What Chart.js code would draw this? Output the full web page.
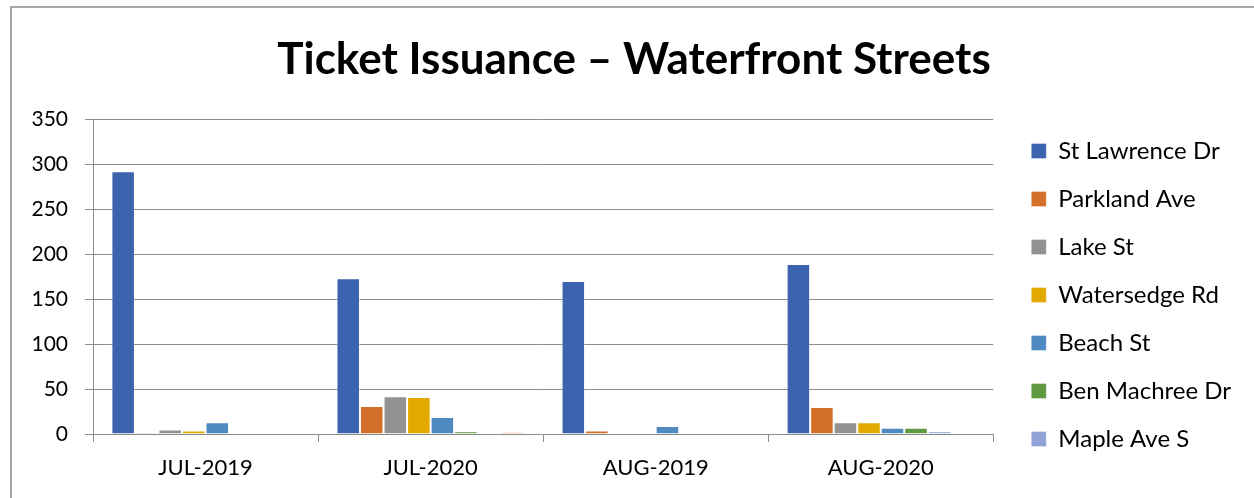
<!DOCTYPE html>
<html>
<head>
<meta charset="utf-8">
<script src="https://cdn.jsdelivr.net/npm/chart.js@4"></script>
<style>
  html, body { margin: 0; padding: 0; background: #fff; }
  #frame {
    position: absolute; left: 10px; top: 6px; width: 1300px; height: 600px;
    border: 2px solid #a6a6a6; box-sizing: border-box;
  }
  #ticketChart { position: absolute; left: 0; top: 0; }
</style>
</head>
<body>
<div id="frame"></div>
<canvas id="ticketChart" width="1254" height="498"></canvas>
<script>
// ---- Duomenys ----
const months = ["JUL-2019", "JUL-2020", "AUG-2019", "AUG-2020"];

const stLawrence  = [292, 173, 170, 189];
const parkland    = [1, 31, 4, 30];
const lakeSt      = [5, 42, 0, 13];
const watersedge  = [4, 41, 0, 13];
const beachSt     = [13, 19, 9, 7];
const benMachree  = [0, 3, 0, 7];
const mapleAve    = [0, 0, 0, 3];
const otherStreet = [0, 2, 0, 0]; // 8th series, not shown in the legend

const yTicks = [0, 50, 100, 150, 200, 250, 300, 350];

const FONT = "Lato, 'Open Sans', sans-serif";

function series(label, data, color, inLegend = true) {
  return {
    label,
    data,
    backgroundColor: color,
    borderColor: "rgba(255,255,255,0.35)",
    borderWidth: 1,
    inLegend,
  };
}

new Chart(document.getElementById("ticketChart"), {
  type: "bar",
  data: {
    labels: months,
    datasets: [
      series("St Lawrence Dr", stLawrence, "#3c64ae"),
      series("Parkland Ave", parkland, "#d5702b"),
      series("Lake St", lakeSt, "#929292"),
      series("Watersedge Rd", watersedge, "#e2aa00"),
      series("Beach St", beachSt, "#4e89bf"),
      series("Ben Machree Dr", benMachree, "#5f9a41"),
      series("Maple Ave S", mapleAve, "#8fa3d6"),
      series("Other", otherStreet, "#f0a582", false),
    ],
  },
  options: {
    responsive: false,
    animation: false,
    devicePixelRatio: 1,
    layout: { padding: { left: 27, right: 13, top: 0, bottom: 0 } },
    datasets: {
      bar: { categoryPercentage: 0.8365, barPercentage: 1.0 },
    },
    plugins: {
      title: {
        display: true,
        text: "Ticket Issuance \u2013 Waterfront Streets",
        color: "#000",
        font: { family: FONT, size: 44, weight: "bold" },
        padding: { top: 33, bottom: 33.2 },
      },
      legend: {
        position: "right",
        maxWidth: 300,
        title: {
          // tuščias pavadinimas - nustumia legendą žemyn
          display: true,
          text: " ",
          font: { size: 10 },
          padding: { top: 40, bottom: 40 },
        },
        labels: {
          color: "#000",
          font: { family: FONT, size: 24 },
          boxWidth: 15,
          boxHeight: 15,
          padding: 24,
          filter: (item, data) => data.datasets[item.datasetIndex].inLegend,
        },
      },
      tooltip: { enabled: false },
    },
    scales: {
      x: {
        offset: true,
        grid: {
          offset: true,
          drawOnChartArea: false,
          drawTicks: true,
          tickLength: 8,
          color: "#8c8c8c",
        },
        border: { color: "#8c8c8c", width: 1 },
        ticks: {
          color: "#000",
          font: { family: FONT, size: 22 },
          padding: 13,
          maxRotation: 0,
        },
        afterFit: (s) => { s.height = 64; },
      },
      y: {
        min: 0,
        max: 350,
        afterBuildTicks: (s) => { s.ticks = yTicks.map((v) => ({ value: v })); },
        grid: { color: "#8c8c8c", tickLength: 8 },
        border: { color: "#8c8c8c", width: 1 },
        ticks: {
          color: "#000",
          font: { family: FONT, size: 21 },
          padding: 17,
        },
        afterFit: (s) => { s.width = 66; },
      },
      // tuščia ašis tarpui tarp grafiko ir legendos
      gap: {
        position: "right",
        display: true,
        grid: { display: false },
        border: { display: false },
        ticks: { display: false },
        afterFit: (s) => { s.width = 14; },
      },
    },
  },
});
</script>
</body>
</html>
